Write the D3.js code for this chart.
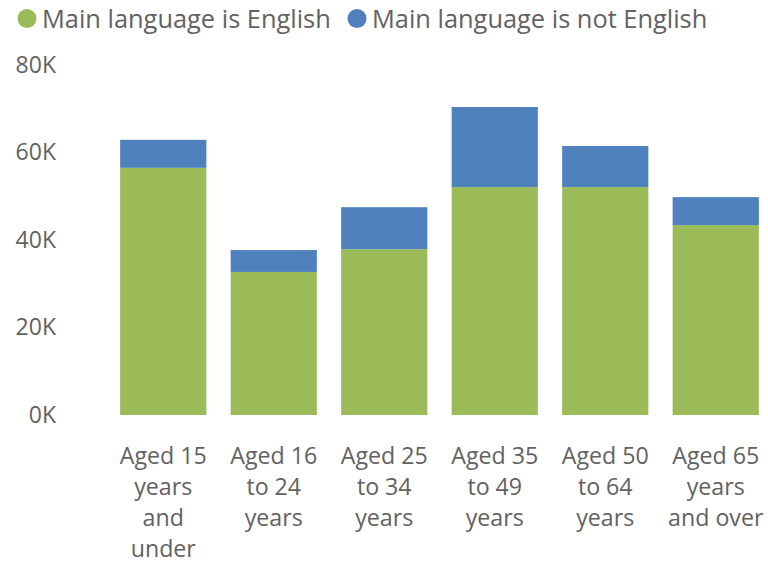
<!DOCTYPE html>
<html>
<head>
<meta charset="utf-8">
<script src="https://cdn.jsdelivr.net/npm/d3@7"></script>
<style>
  html, body { margin: 0; padding: 0; background: #fff; }
  svg { display: block; font-family: "Open Sans", sans-serif; }
</style>
</head>
<body>
<svg id="chart" width="768" height="564"></svg>
<script>
// ---- data ----
const categories = [
  "Aged 15 years and under",
  "Aged 16 to 24 years",
  "Aged 25 to 34 years",
  "Aged 35 to 49 years",
  "Aged 50 to 64 years",
  "Aged 65 years and over"
];
const tickLines = [
  ["Aged 15", "years", "and", "under"],
  ["Aged 16", "to 24", "years"],
  ["Aged 25", "to 34", "years"],
  ["Aged 35", "to 49", "years"],
  ["Aged 50", "to 64", "years"],
  ["Aged 65", "years", "and over"]
];
const seriesNames = ["Main language is English", "Main language is not English"];
const englishValues = [56500, 32700, 37900, 52100, 52100, 43400];
const notEnglishValues = [6400, 5000, 9600, 18300, 9400, 6400];
const yTicks = [0, 20000, 40000, 60000, 80000];
const colors = ["#9BBB59", "#4F81BD"];

// ---- build ----
const rows = categories.map((c, i) => ({
  cat: c,
  [seriesNames[0]]: englishValues[i],
  [seriesNames[1]]: notEnglishValues[i]
}));
const stacked = d3.stack().keys(seriesNames)(rows);

const svg = d3.select("#chart");

const x = d3.scaleBand().domain(categories).range([108, 771])
  .paddingInner(0.22).paddingOuter(0.11);
const y = d3.scaleLinear().domain([0, 80000]).range([415, 65]);
const color = d3.scaleOrdinal().domain(seriesNames).range(colors);

// y axis
const yAxis = svg.append("g").attr("transform", "translate(56,0)")
  .call(d3.axisLeft(y).tickValues(yTicks).tickSize(0).tickPadding(0)
    .tickFormat(d => (d / 1000) + "K"));
yAxis.select(".domain").remove();
yAxis.selectAll("text").attr("fill", "#626262").style("font-size", "23px")
  .style("font-family", "'Open Sans', sans-serif");

// bars
svg.append("g").selectAll("g").data(stacked).join("g")
  .attr("fill", d => color(d.key))
  .selectAll("rect").data(d => d).join("rect")
  .attr("x", d => x(d.data.cat))
  .attr("width", x.bandwidth())
  .attr("y", d => y(d[1]))
  .attr("height", d => y(d[0]) - y(d[1]));

// x axis
const xAxis = svg.append("g").attr("transform", "translate(0,415)")
  .call(d3.axisBottom(x).tickSize(0).tickFormat(""));
xAxis.select(".domain").remove();
xAxis.selectAll(".tick").each(function(d, i) {
  const t = d3.select(this).append("text")
    .attr("fill", "#626262")
    .attr("text-anchor", "middle")
    .style("font-size", "23.2px")
    .style("font-family", "'Open Sans', sans-serif");
  tickLines[i].forEach((line, j) => {
    t.append("tspan").attr("x", 0).attr("y", 49 + j * 31).text(line);
  });
});

// legend
const legendX = [27, 357];
const legend = svg.append("g");
seriesNames.forEach((name, i) => {
  legend.append("circle").attr("cx", legendX[i]).attr("cy", 18.5).attr("r", 9.5)
    .attr("fill", colors[i]);
  legend.append("text").attr("x", legendX[i] + 15).attr("y", 28)
    .attr("fill", "#626262").style("font-size", "25.4px").text(name);
});
</script>
</body>
</html>
